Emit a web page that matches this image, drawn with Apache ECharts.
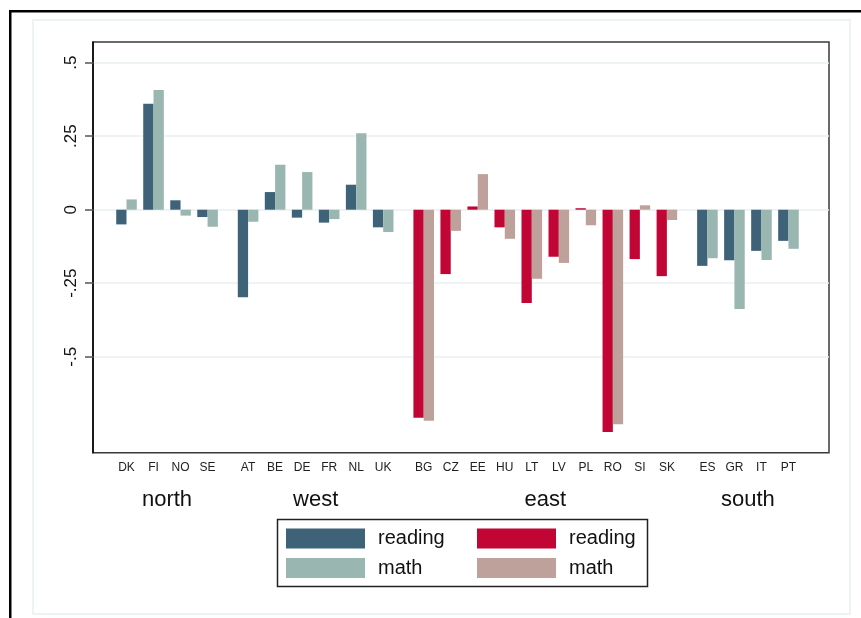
<!DOCTYPE html>
<html>
<head>
<meta charset="utf-8">
<title>Reading and math gaps by country</title>
<script src="https://cdn.jsdelivr.net/npm/echarts@6/dist/echarts.min.js"></script>
<style>
  html, body { margin: 0; padding: 0; background: #ffffff; }
  #chart { width: 861px; height: 618px; }
</style>
</head>
<body>
<div id="chart"></div>
<script>
// Countries in plotting order, with the region each belongs to
const countries = ['DK', 'FI', 'NO', 'SE',
  'AT', 'BE', 'DE', 'FR', 'NL', 'UK',
  'BG', 'CZ', 'EE', 'HU', 'LT', 'LV', 'PL', 'RO', 'SI', 'SK',
  'ES', 'GR', 'IT', 'PT'];
const countryRegion = ['north', 'north', 'north', 'north',
  'west', 'west', 'west', 'west', 'west', 'west',
  'east', 'east', 'east', 'east', 'east', 'east', 'east', 'east', 'east', 'east',
  'south', 'south', 'south', 'south'];
const regions = ['north', 'west', 'east', 'south'];

// Gap per country
const reading = [-0.050, 0.360, 0.032, -0.025,
  -0.298, 0.060, -0.027, -0.044, 0.085, -0.060,
  -0.708, -0.219, 0.011, -0.060, -0.317, -0.160, 0.005, -0.756, -0.168, -0.226,
  -0.191, -0.172, -0.140, -0.106];
const math = [0.035, 0.407, -0.020, -0.058,
  -0.041, 0.153, 0.128, -0.032, 0.260, -0.076,
  -0.718, -0.072, 0.121, -0.099, -0.235, -0.181, -0.053, -0.730, 0.015, -0.035,
  -0.165, -0.338, -0.171, -0.133];

// Value-axis ticks and their printed labels
const yTicks = [-0.5, -0.25, 0, 0.25, 0.5];
const yTickLabels = ['-.5', '-.25', '0', '.25', '.5'];

// Slot position of each country: one slot per country, half a slot extra between regions
const REGION_GAP = 0.5;
const slot = countries.map((c, i) => i + REGION_GAP * regions.indexOf(countryRegion[i]));
const regionCenter = regions.map(r => {
  const s = slot.filter((_, i) => countryRegion[i] === r);
  return (Math.min(...s) + Math.max(...s)) / 2;
});

const BAR_W = 0.381; // bar width in slot units

function seriesData(values, wantEast) {
  return countries
    .map((c, i) => ({ i, east: countryRegion[i] === 'east' }))
    .filter(d => d.east === wantEast)
    .map(d => [slot[d.i], values[d.i], countries[d.i]]);
}

function barRenderer(side) {
  return function (params, api) {
    const u = api.value(0);
    const v = api.value(1);
    const base = api.coord([u, 0]);
    const tip = api.coord([u, v]);
    const w = api.size([BAR_W, 0])[0];
    const x = side < 0 ? base[0] - w : base[0];
    return {
      type: 'rect',
      shape: { x: x, y: Math.min(base[1], tip[1]), width: w, height: Math.abs(tip[1] - base[1]) },
      style: { fill: api.visual('color') }
    };
  };
}

const COLORS = {
  readingOther: '#3e6379',
  mathOther: '#99b6b0',
  readingEast: '#c10534',
  mathEast: '#bfa19b'
};

const FONT = '"Liberation Sans", Arial, Helvetica, sans-serif';

const xRange = { min: -1.24, max: 26.0 };

const chart = echarts.init(document.getElementById('chart'), null, { renderer: 'canvas' });

const legendCommon = {
  orient: 'vertical',
  top: 528.5,
  padding: 0,
  itemWidth: 79,
  itemHeight: 20,
  itemGap: 9.5,
  icon: 'rect',
  selectedMode: false,
  formatter: name => name.replace(/ \(.*\)$/, ''),
  textStyle: { fontFamily: FONT, fontSize: 20, color: '#111', lineHeight: 20, padding: [0, 0, 0, 8] }
};

chart.setOption({
  animation: false,
  backgroundColor: '#ffffff',
  textStyle: { fontFamily: FONT },
  graphic: [
    { type: 'rect', shape: { x: 33, y: 20, width: 817, height: 594 },
      style: { fill: 'none', stroke: '#e6eff1', lineWidth: 1.5 }, silent: true },
    { type: 'rect', shape: { x: 9, y: 10, width: 852, height: 2.5 }, style: { fill: '#000' }, silent: true },
    { type: 'rect', shape: { x: 9, y: 10, width: 2.5, height: 608 }, style: { fill: '#000' }, silent: true },
    { type: 'rect', shape: { x: 277.5, y: 519.5, width: 370, height: 67 },
      style: { fill: '#fff', stroke: '#222', lineWidth: 1.5 }, silent: true, z: -1 }
  ],
  legend: [
    Object.assign({}, legendCommon, { left: 286, data: ['reading (north, west, south)', 'math (north, west, south)'] }),
    Object.assign({}, legendCommon, { left: 477, data: ['reading (east)', 'math (east)'] })
  ],
  grid: {
    left: 93, top: 42, right: 32, bottom: 165.3,
    show: true, borderColor: '#3a3a3a', borderWidth: 1.5, backgroundColor: '#fff',
    outerBoundsMode: 'none'
  },
  xAxis: [
    {
      type: 'value', min: xRange.min, max: xRange.max,
      axisLine: { show: false }, axisTick: { show: false }, splitLine: { show: false },
      axisLabel: {
        customValues: slot, margin: 9,
        fontSize: 12, color: '#222', fontFamily: FONT,
        formatter: v => countries[slot.findIndex(s => Math.abs(s - v) < 1e-6)] || ''
      }
    },
    {
      type: 'value', min: xRange.min, max: xRange.max, position: 'bottom',
      axisLine: { show: false }, axisTick: { show: false }, splitLine: { show: false },
      axisLabel: {
        customValues: regionCenter, margin: 36,
        fontSize: 22, color: '#111', fontFamily: FONT,
        formatter: v => regions[regionCenter.findIndex(s => Math.abs(s - v) < 1e-6)] || ''
      }
    }
  ],
  yAxis: {
    type: 'value', min: -0.8265, max: 0.5704,
    axisLine: { show: true, onZero: false, lineStyle: { color: '#000', width: 1.5 } },
    axisTick: { show: true, length: 8, customValues: yTicks, lineStyle: { color: '#555', width: 1.5 } },
    splitLine: { show: true, lineStyle: { color: '#e8f0f2', width: 1.5 } },
    axisLabel: {
      customValues: yTicks, rotate: 90, margin: 13,
      fontSize: 17, color: '#111', fontFamily: FONT,
      formatter: v => yTickLabels[yTicks.findIndex(t => Math.abs(t - v) < 1e-6)] || ''
    }
  },
  series: [
    { name: 'reading (north, west, south)', type: 'custom', xAxisIndex: 0, renderItem: barRenderer(-1),
      itemStyle: { color: COLORS.readingOther }, encode: { x: 0, y: 1 }, data: seriesData(reading, false) },
    { name: 'math (north, west, south)', type: 'custom', xAxisIndex: 0, renderItem: barRenderer(1),
      itemStyle: { color: COLORS.mathOther }, encode: { x: 0, y: 1 }, data: seriesData(math, false) },
    { name: 'reading (east)', type: 'custom', xAxisIndex: 0, renderItem: barRenderer(-1),
      itemStyle: { color: COLORS.readingEast }, encode: { x: 0, y: 1 }, data: seriesData(reading, true) },
    { name: 'math (east)', type: 'custom', xAxisIndex: 0, renderItem: barRenderer(1),
      itemStyle: { color: COLORS.mathEast }, encode: { x: 0, y: 1 }, data: seriesData(math, true) }
  ]
});
</script>
</body>
</html>
